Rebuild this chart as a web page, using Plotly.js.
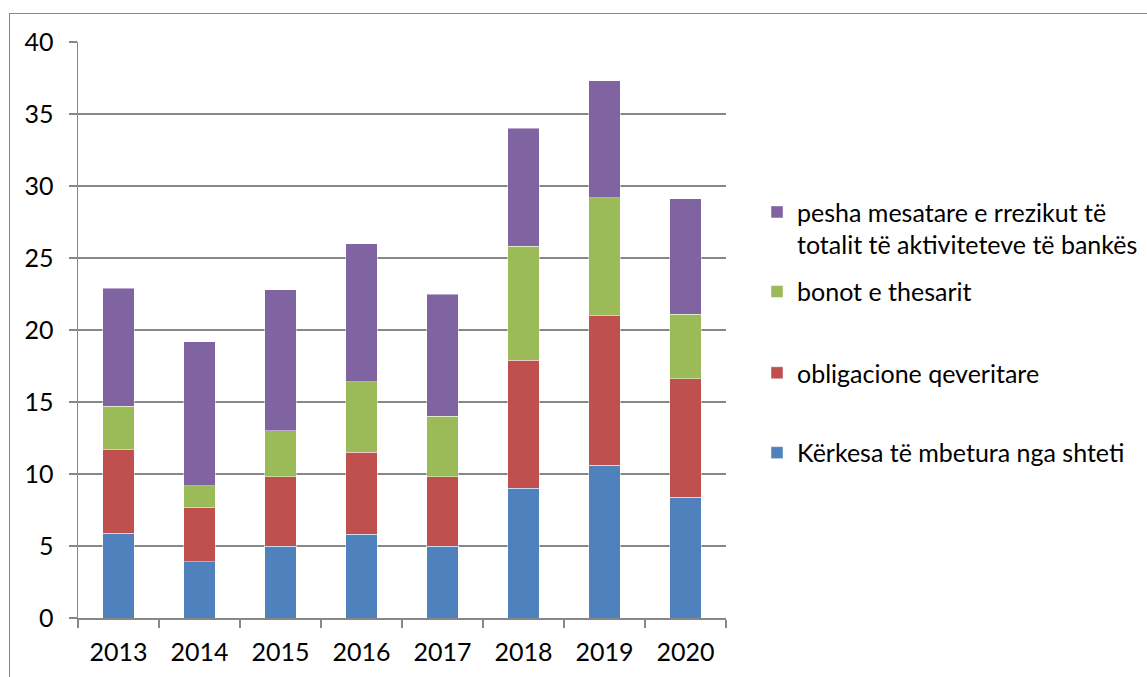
<!DOCTYPE html>
<html>
<head>
<meta charset="utf-8">
<script src="https://cdn.plot.ly/plotly-3.0.1.min.js"></script>
<style>
html,body{margin:0;padding:0;background:#fff;}
#chart{width:1147px;height:677px;}
#frame{position:absolute;left:9px;top:13px;width:1200px;height:700px;border-left:1.5px solid #878787;border-top:1.5px solid #878787;pointer-events:none;}
</style>
</head>
<body>
<div id="chart"></div>
<div id="frame"></div>
<script>
const years = ["2013","2014","2015","2016","2017","2018","2019","2020"];
const kerkesa = [5.9, 3.9, 5.0, 5.8, 5.0, 9.0, 10.6, 8.4];
const obligacione = [5.8, 3.8, 4.8, 5.7, 4.8, 8.9, 10.4, 8.2];
const bonot = [3.0, 1.5, 3.2, 4.9, 4.2, 7.9, 8.2, 4.5];
const pesha = [8.2, 10.0, 9.8, 9.6, 8.5, 8.2, 8.1, 8.0];
const names = ["Kërkesa të mbetura nga shteti", "obligacione qeveritare", "bonot e thesarit", "pesha mesatare e rrezikut të<br>totalit të aktiviteteve të bankës"];
const colors = ["#4F81BD", "#C0504D", "#9BBB59", "#8064A2"];
const series = [kerkesa, obligacione, bonot, pesha];
const legendIds = ["legend4", "legend3", "legend2", "legend"];

const traces = series.map((s, i) => ({
  type: "bar",
  x: years,
  y: s,
  name: names[i],
  legend: legendIds[i],
  marker: {color: colors[i], line: {color: "rgba(255,255,255,0.45)", width: 1}},
  hoverinfo: "x+y+name"
}));

const font = {family: "Lato, 'Open Sans', sans-serif", size: 25, color: "#000"};
function legendAt(yc) {
  return {
    xref: "container", yref: "container",
    x: 0.66, xanchor: "left", y: yc, yanchor: "middle",
    valign: "top", font: font, itemwidth: 30,
    bgcolor: "rgba(0,0,0,0)", borderwidth: 0
  };
}
const layout = {
  width: 1147, height: 677,
  margin: {l: 78, r: 421, t: 42, b: 59},
  barmode: "stack",
  bargap: 0.61,
  paper_bgcolor: "#fff",
  plot_bgcolor: "#fff",
  font: font,
  showlegend: true,
  legend: legendAt(0.663),
  legend2: legendAt(0.569),
  legend3: legendAt(0.449),
  legend4: legendAt(0.331),
  xaxis: {
    type: "category",
    tickson: "boundaries",
    ticks: "outside", ticklen: 8, tickcolor: "#878787", tickwidth: 1.5,
    showline: true, linecolor: "#878787", linewidth: 1.5,
    showgrid: false,
    ticklabelstandoff: 11,
    tickfont: font,
    fixedrange: true
  },
  yaxis: {
    range: [0, 40],
    dtick: 5,
    ticks: "outside", ticklen: 8, tickcolor: "#878787", tickwidth: 1.5,
    showline: true, linecolor: "#878787", linewidth: 1.5,
    showgrid: true, gridcolor: "#878787", gridwidth: 1.5,
    zeroline: false,
    ticklabelstandoff: 10,
    tickfont: font,
    fixedrange: true
  }
};
Plotly.newPlot("chart", traces, layout, {displayModeBar: false, staticPlot: true});
</script>
</body>
</html>
